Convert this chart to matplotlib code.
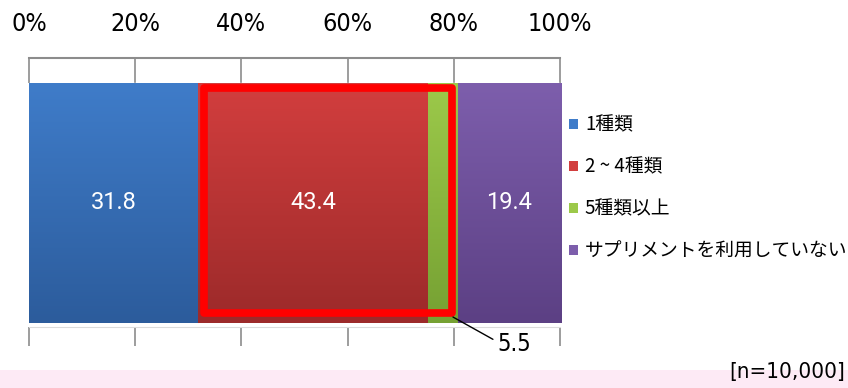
import numpy as np
import matplotlib
matplotlib.use("Agg")
import matplotlib.pyplot as plt
from matplotlib.patches import Patch, Rectangle
from matplotlib.colors import LinearSegmentedColormap

plt.rcParams['font.family'] = ['Noto Sans CJK JP', 'DejaVu Sans']

categories = ["1種類", "2 ~ 4種類", "5種類以上", "サプリメントを利用していない"]
values = [31.8, 43.4, 5.5, 19.4]
ticks = [0, 20, 40, 60, 80, 100]
tick_labels = ["0%", "20%", "40%", "60%", "80%", "100%"]
# top / bottom shade of each segment
shades = [("#3f7cc9", "#2c5c9c"), ("#d23e3e", "#9c2a2a"),
          ("#9cc94a", "#76a133"), ("#7d5eac", "#5c4084")]
note = "[n=10,000]"

narrow = dict(family=['DejaVu Sans'], fontstretch='condensed')

fig = plt.figure(figsize=(8.48, 3.88), dpi=100)
ax = fig.add_axes([29 / 848, 1 - 327 / 388, 531 / 848, 269 / 388])

# pink band at the bottom
fig.patches.append(Rectangle((0, 0), 1, 18 / 388, transform=fig.transFigure,
                             facecolor="#fdeaf5", edgecolor="none", zorder=0))

left = np.concatenate([[0], np.cumsum(values)[:-1]])
bars = ax.barh([0.461], values, left=left, height=0.892,
               color=[s[1] for s in shades], edgecolor="white", linewidth=1.0, zorder=3)

grad = np.linspace(0, 1, 100).reshape(-1, 1)
for b, (top, bot) in zip(bars, shades):
    cmap = LinearSegmentedColormap.from_list("g", [top, bot])
    x0, y0, w, h = b.get_x(), b.get_y(), b.get_width(), b.get_height()
    im = ax.imshow(grad, cmap=cmap, aspect="auto", extent=(x0, x0 + w, y0, y0 + h),
                   origin="upper", zorder=3.5)
    im.set_clip_path(b)

for i in [0, 1, 3]:
    ax.text(left[i] + values[i] / 2, 0.461, f"{values[i]:.1f}", ha="center", va="center",
            color="white", fontsize=17, family=['Roboto', 'DejaVu Sans'], zorder=6)

# highlight frame around 2~4 and 5+
x_a = left[1] + 1.1
x_b = left[2] + values[2] - 1.0
ax.add_patch(Rectangle((x_a, 0.052), x_b - x_a, 0.836, fill=False, edgecolor="#ff0000",
                       linewidth=5.5, joinstyle="round", zorder=7))

ax.annotate(f"{values[2]:.1f}", xy=(left[2] + values[2] - 0.85, 0.037), xytext=(91.3, -0.063),
            ha="center", va="center", fontsize=17, **narrow,
            arrowprops=dict(arrowstyle="-", color="black", lw=1.0, shrinkA=1, shrinkB=0,
                            relpos=(0.0, 0.6)),
            annotation_clip=False, zorder=8)

ax.set_xlim(0, 100)
ax.set_ylim(0, 1)
ax.set_yticks([])
ax.set_xticks(ticks)
ax.tick_params(axis="x", top=True, bottom=True, labeltop=True, labelbottom=False,
               color="#8c8c8c", width=1.2, direction="out", length=14, pad=2)
ax.set_xticklabels(tick_labels, fontsize=18, **narrow)
for t in ax.xaxis.get_major_ticks():
    t.tick2line.set_marker(3)  # tick pointing down from top spine
    t.tick2line.set_markersize(18)

for s in ["left", "right"]:
    ax.spines[s].set_visible(False)
ax.spines["top"].set_color("#8c8c8c")
ax.spines["top"].set_linewidth(1.5)
ax.spines["bottom"].set_color("#dcdcdc")
ax.set_axisbelow(True)

handles = [Patch(facecolor=s[0], edgecolor="none") for s in shades]
fig.legend(handles, categories, loc="center left", bbox_to_anchor=(569 / 848, 1 - 188 / 388),
           frameon=False, fontsize=13.5, handlelength=0.5, handleheight=0.5, handletextpad=0.35,
           labelspacing=1.12, borderpad=0, borderaxespad=0)

fig.text(845 / 848, 1 - 372 / 388, note, ha="right", va="center", fontsize=16, **narrow)

fig.savefig("out.png", dpi=100)
